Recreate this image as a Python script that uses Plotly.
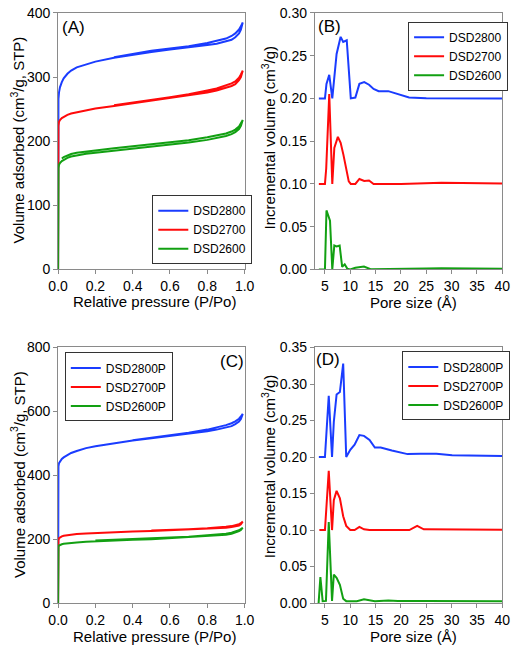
import plotly.graph_objects as go

# ---------------- data ----------------
# Panel A / C : N2 isotherms (relative pressure)
P_ads = [0, 0.0005, 0.002, 0.005, 0.01, 0.02, 0.03, 0.05, 0.07, 0.1, 0.15, 0.2, 0.3,
         0.4, 0.5, 0.6, 0.7, 0.8, 0.85, 0.9, 0.93, 0.95, 0.97, 0.98, 0.99]
P_des = [0.99, 0.98, 0.97, 0.95, 0.93, 0.9, 0.85, 0.8, 0.7, 0.6, 0.5, 0.4, 0.3, 0.2,
         0.15, 0.1, 0.07, 0.05, 0.03, 0.02]

A_names = ["DSD2800", "DSD2700", "DSD2600"]
A_ads = [
    [0, 255, 266, 276, 284, 292, 298, 305, 310, 315, 320, 324, 330, 335, 339, 343, 346, 350, 352, 355, 358, 362, 368, 374, 385],
    [0, 214, 224, 230, 233, 236, 238, 241, 243, 245, 248, 251, 255, 259, 263, 267, 271, 276, 279, 283, 286, 289, 295, 300, 310],
    [0, 150, 158, 163, 166, 169, 171, 174, 176, 178, 180.5, 182, 185, 188, 191, 194.5, 198, 202, 205, 208, 211, 214, 219, 224, 233],
]
A_des = [
    [385, 379, 374, 368, 364, 360, 356, 353, 348, 345, 341, 336, 331],
    [310, 304, 299, 293, 290, 287, 282, 279, 273, 268.5, 264, 260, 256],
    [233, 227, 223, 218, 215, 212, 209, 206, 201.5, 198, 195, 192, 189, 186, 184.5, 182, 180, 178, 175, 173],
]

C_names = ["DSD2800P", "DSD2700P", "DSD2600P"]
C_ads = [
    [0, 400, 428, 438, 444, 451, 456, 464, 470, 476, 485, 491, 501, 509, 516, 523, 530, 538, 543, 549, 554, 560, 568, 576, 592],
    [0, 188, 197, 203, 206, 209, 211, 213, 214, 216, 218, 219.5, 222, 224, 226, 228, 230, 232, 234, 236, 238, 240, 243, 247, 255],
    [0, 170, 176, 180, 182, 184, 185.5, 187, 188, 190, 192, 193.5, 196, 198, 200, 203, 206, 209, 211, 214, 217, 220, 225, 229, 236],
]
C_des = [
    [592, 584, 577, 569, 563, 557, 549, 543, 533, 525, 518, 510],
    [255, 250, 247, 243, 241, 239, 236, 234, 231, 229, 227],
    [236, 232, 228, 223, 220, 217, 214, 212, 208, 205, 202, 200, 198, 196],
]

# Panel B : pore size distributions
B_x = [
    [3.8, 5.0, 5.3, 5.85, 6.45, 7.3, 8.1, 8.6, 9.3, 10.1, 11.0, 11.8, 12.75, 13.7, 14.6, 15.6, 17.5, 19.4, 21.6, 25, 30, 35, 40],
    [3.8, 5.0, 5.25, 5.85, 6.45, 6.85, 7.55, 8.1, 8.65, 9.3, 9.7, 10.1, 11.0, 11.8, 12.75, 13.7, 14.6, 20, 25, 28, 32, 40],
    [3.8, 5.0, 5.3, 6.0, 6.45, 6.85, 7.3, 7.9, 8.4, 8.9, 9.4, 10.0, 11.0, 12.7, 14.0, 20, 25, 28, 32, 40],
]
B_y = [
    [0.200, 0.200, 0.217, 0.2275, 0.200, 0.252, 0.272, 0.266, 0.268, 0.200, 0.201, 0.217, 0.219, 0.216, 0.211, 0.2085, 0.2085, 0.2047, 0.201, 0.2003, 0.2002, 0.2001, 0.2000],
    [0.100, 0.100, 0.118, 0.205, 0.100, 0.142, 0.155, 0.148, 0.134, 0.115, 0.103, 0.100, 0.100, 0.1058, 0.1035, 0.104, 0.100, 0.100, 0.1005, 0.1015, 0.101, 0.1005],
    [0.0, 0.0, 0.069, 0.057, 0.0, 0.028, 0.027, 0.028, 0.003, 0.006, 0.001, 0.0, 0.002, 0.0035, 0.0003, 0.0003, 0.001, 0.0015, 0.001, 0.0008],
]

# Panel D
D_x = [
    [3.8, 5.0, 5.75, 6.4, 6.75, 7.3, 7.95, 8.6, 9.2, 10.0, 10.85, 11.8, 12.7, 13.8, 14.85, 16.0, 18.2, 21.3, 23.85, 27.0, 30.1, 35, 40],
    [3.9, 5.0, 5.75, 6.4, 6.75, 7.3, 7.95, 8.6, 9.2, 10.0, 10.85, 11.8, 12.7, 13.8, 21.65, 23.2, 24.5, 30, 40],
    [3.75, 4.1, 4.55, 5.2, 5.75, 6.4, 6.75, 7.3, 7.95, 8.6, 9.2, 11.3, 12.7, 13.8, 14.85, 17.5, 19.4, 25, 40],
]
D_y = [
    [0.200, 0.200, 0.284, 0.200, 0.248, 0.2857, 0.289, 0.328, 0.200, 0.210, 0.2168, 0.230, 0.229, 0.2234, 0.213, 0.213, 0.209, 0.204, 0.2045, 0.2044, 0.2026, 0.2015, 0.2013],
    [0.100, 0.100, 0.181, 0.100, 0.141, 0.1537, 0.1435, 0.119, 0.1057, 0.100, 0.100, 0.1044, 0.101, 0.100, 0.100, 0.1057, 0.101, 0.1005, 0.1003],
    [0.0, 0.0355, 0.0027, 0.003, 0.111, 0.003, 0.039, 0.0347, 0.025, 0.006, 0.0027, 0.0027, 0.0053, 0.0044, 0.0027, 0.0035, 0.003, 0.003, 0.0027],
]

colors = ["#1a3cff", "#ff0a0a", "#12a012"]
FONT = "Liberation Sans, Arial, sans-serif"
W, H = 520, 655

fig = go.Figure()

def iso(names, ads, des, xa, ya, leg):
    for n, a, d, c in zip(names, ads, des, colors):
        xs = list(P_ads) + list(P_des[:len(d)])
        ys = list(a) + list(d)
        fig.add_trace(go.Scatter(x=xs, y=ys, mode="lines", name=n,
                                 line=dict(color=c, width=2),
                                 xaxis=xa, yaxis=ya, legend=leg))

def psd(names, xs, ys, xa, ya, leg):
    for n, x, y, c in zip(names, xs, ys, colors):
        fig.add_trace(go.Scatter(x=x, y=y, mode="lines", name=n,
                                 line=dict(color=c, width=2),
                                 xaxis=xa, yaxis=ya, legend=leg))

iso(A_names, A_ads, A_des, "x", "y", "legend")
psd(A_names, B_x, B_y, "x2", "y2", "legend2")
iso(C_names, C_ads, C_des, "x3", "y3", "legend3")
psd(C_names, D_x, D_y, "x4", "y4", "legend4")

def px_x(a, b):
    return [a / W, b / W]

def px_y(top, bottom):
    return [1 - bottom / H, 1 - top / H]

ax_common = dict(showline=True, linecolor="#8a8a8a", linewidth=1, mirror=True,
                 ticks="outside", ticklen=4, tickcolor="#8a8a8a", showgrid=False,
                 zeroline=False, tickfont=dict(family=FONT, size=14, color="black"))

dom_xL = px_x(50, 244)
dom_xR = px_x(317, 512)
dom_yT = px_y(5, 268)
dom_yB = px_y(348, 610)

fig.update_layout(
    width=W, height=H, margin=dict(l=0, r=0, t=0, b=0),
    paper_bgcolor="white", plot_bgcolor="white",
    font=dict(family=FONT, color="black"),
    xaxis=dict(domain=dom_xL, anchor="y", range=[0, 1], dtick=0.2, tickformat=".1f", **ax_common),
    yaxis=dict(domain=dom_yT, anchor="x", range=[0, 400], dtick=100, **ax_common),
    xaxis2=dict(domain=dom_xR, anchor="y2", range=[3, 40], tick0=5, dtick=5, **ax_common),
    yaxis2=dict(domain=dom_yT, anchor="x2", range=[0, 0.30], dtick=0.05, tickformat=".2f", **ax_common),
    xaxis3=dict(domain=dom_xL, anchor="y3", range=[0, 1], dtick=0.2, tickformat=".1f", **ax_common),
    yaxis3=dict(domain=dom_yB, anchor="x3", range=[0, 800], dtick=200, **ax_common),
    xaxis4=dict(domain=dom_xR, anchor="y4", range=[3, 40], tick0=5, dtick=5, **ax_common),
    yaxis4=dict(domain=dom_yB, anchor="x4", range=[0, 0.35], dtick=0.05, tickformat=".2f", **ax_common),
)

leg_common = dict(xanchor="left", yanchor="top", bgcolor="white", bordercolor="#333333",
                  borderwidth=1, font=dict(family=FONT, size=12, color="black"))
fig.update_layout(
    legend=dict(x=148 / W, y=1 - 192 / H, **leg_common),
    legend2=dict(x=414 / W, y=1 - 14 / H, **leg_common),
    legend3=dict(x=57 / W, y=1 - 353 / H, **leg_common),
    legend4=dict(x=408 / W, y=1 - 352 / H, **leg_common),
)

def ann(text, x, y, size=15, angle=0):
    fig.add_annotation(text=text, x=x / W, y=1 - y / H, xref="paper", yref="paper",
                       showarrow=False, textangle=angle, xanchor="center", yanchor="middle",
                       font=dict(family=FONT, size=size, color="black"))

# axis titles
ann("Relative pressure (P/Po)", 150, 301)
ann("Pore size (Å)", 420, 302)
ann("Relative pressure (P/Po)", 150, 644)
ann("Pore size (Å)", 420, 644)
ann("Volume adsorbed (cm<sup>3</sup>/g, STP)", 8, 135, angle=-90)
ann("Incremental volume (cm<sup>3</sup>/g)", 269, 133, angle=-90)
ann("Volume adsorbed (cm<sup>3</sup>/g, STP)", 8, 478, angle=-90)
ann("Incremental volume (cm<sup>3</sup>/g)", 269, 470, angle=-90)

# panel labels
ann("(A)", 66, 20, size=17)
ann("(B)", 332, 19, size=17)
ann("(C)", 231, 362, size=17)
ann("(D)", 331, 360, size=17)

fig.write_html("out.html", config={"displayModeBar": False},
               post_script="document.body.style.margin='0';document.body.style.overflow='hidden';")
